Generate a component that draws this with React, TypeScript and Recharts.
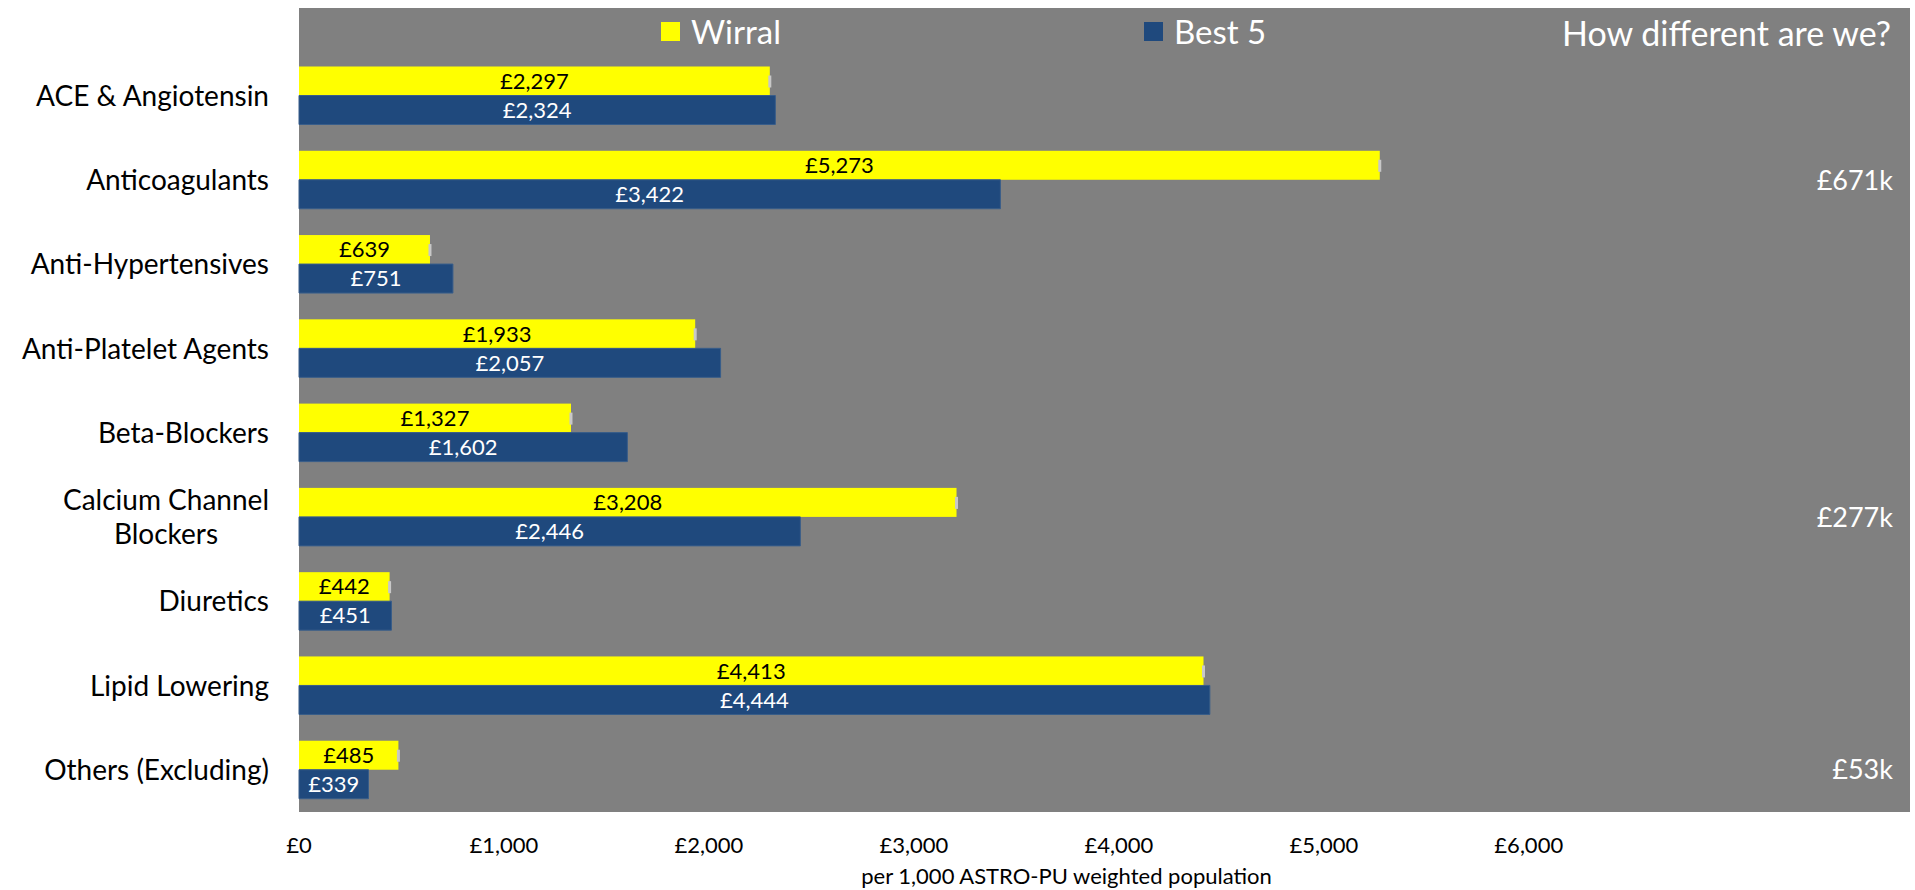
import React from 'react';
import { BarChart, Bar, XAxis, YAxis, CartesianGrid, Legend, LabelList } from 'recharts';

// ---------- data ----------
const categories = [
  'ACE & Angiotensin',
  'Anticoagulants',
  'Anti-Hypertensives',
  'Anti-Platelet Agents',
  'Beta-Blockers',
  'Calcium Channel Blockers',
  'Diuretics',
  'Lipid Lowering',
  'Others (Excluding)',
];
const wirral = [2297, 5273, 639, 1933, 1327, 3208, 442, 4413, 485];
const best5 = [2324, 3422, 751, 2057, 1602, 2446, 451, 4444, 339];
const difference = ['', '£671k', '', '', '', '£277k', '', '', '£53k'];
const xTicks = [0, 1000, 2000, 3000, 4000, 5000, 6000];
const xMax = 7860;
const seriesNames = ['Wirral', 'Best 5'];
const headerTitle = 'How different are we?';
const axisTitle = 'per 1,000 ASTRO-PU weighted population';

const data = categories.map((c, i) => ({
  category: c,
  wirral: wirral[i],
  best5: best5[i],
  diff: difference[i],
}));

// ---------- styles ----------
const FONT = 'Lato, "Open Sans", sans-serif';
const GRAY = '#808080';
const YELLOW = '#FFFF00';
const BLUE = '#1F497D';
const CAP = '#C8C8C8';
const seriesColors = [YELLOW, BLUE];

const money = (v: number) => `£${Number(v).toLocaleString('en-GB')}`;

let ctx: CanvasRenderingContext2D | null = null;
function measure(text: string, size: number): number {
  if (!ctx) ctx = document.createElement('canvas').getContext('2d');
  if (!ctx) return text.length * size * 0.5;
  ctx.font = `${size}px Lato`;
  return ctx.measureText(text).width;
}
function wrap(text: string, size: number, maxW: number): string[] {
  const words = text.split(' ');
  const lines: string[] = [];
  let cur = '';
  for (const w of words) {
    const test = cur ? cur + ' ' + w : w;
    if (cur && measure(test, size) > maxW) {
      lines.push(cur);
      cur = w;
    } else cur = test;
  }
  if (cur) lines.push(cur);
  return lines;
}

const CAT_SIZE = 28;
const CategoryTick = (props: any) => {
  const { x, y, payload } = props;
  const lines = wrap(String(payload.value), CAT_SIZE, 290);
  const common = { fontFamily: FONT, fontSize: CAT_SIZE, fill: '#000' };
  if (lines.length === 1) {
    return (
      <text x={x} y={y} dy="0.36em" textAnchor="end" {...common}>
        {lines[0]}
      </text>
    );
  }
  const blockW = Math.max(...lines.map((l) => measure(l, CAT_SIZE)));
  const lh = 34;
  const cx = x - blockW / 2;
  return (
    <text x={cx} y={y - ((lines.length - 1) * lh) / 2} textAnchor="middle" {...common}>
      {lines.map((l, i) => (
        <tspan key={i} x={cx} dy={i === 0 ? '0.36em' : lh}>
          {l}
        </tspan>
      ))}
    </text>
  );
};

// yellow bar with the small light-grey end marker seen in the original
const CappedBar = (props: any) => {
  const { x, y, width, height, fill } = props;
  if (width == null || height == null) return null;
  return (
    <g>
      <rect x={x} y={y} width={width} height={height} fill={fill} />
      <rect x={x + width - 1.5} y={y + height / 2 - 5.5} width={3} height={12} fill={CAP} />
    </g>
  );
};

const legendLefts = [661, 1144];
const renderLegend = () => {
  return (
    <div style={{ position: 'relative', height: 0, fontFamily: FONT, color: '#fff' }}>
      {seriesNames.map((name, i) => (
        <div
          key={name}
          style={{
            position: 'absolute',
            left: legendLefts[i],
            top: 12,
            display: 'flex',
            alignItems: 'center',
            whiteSpace: 'nowrap',
          }}
        >
          <span style={{ display: 'inline-block', width: 19, height: 19, background: seriesColors[i], marginRight: 11 }} />
          <span style={{ fontSize: 33, lineHeight: '38px' }}>{name}</span>
        </div>
      ))}
      <div
        style={{
          position: 'absolute',
          right: 24,
          top: 14,
          fontSize: 34,
          lineHeight: '38px',
          whiteSpace: 'nowrap',
        }}
      >
        {headerTitle}
      </div>
    </div>
  );
};

export default function App() {
  return (
    <div style={{ width: 1915, height: 890 }}>
      <style>{'body{margin:0;}'}</style>
      <BarChart
        width={1915}
        height={890}
        data={data}
        layout="vertical"
        margin={{ top: 8, right: 5, bottom: 0, left: 0 }}
        barGap={0}
        style={{ fontFamily: FONT }}
      >
        <CartesianGrid yAxisId="main" fill={GRAY} horizontal={false} vertical={false} stroke="none" />
        <XAxis
          type="number"
          domain={[0, xMax]}
          ticks={xTicks}
          interval={0}
          tickFormatter={money}
          axisLine={false}
          tickLine={false}
          tickSize={0}
          tickMargin={25}
          height={78}
          tick={{ fill: '#000', fontSize: 22, fontFamily: FONT }}
          label={{
            value: axisTitle,
            position: 'insideBottom',
            offset: 6,
            dx: -38,
            style: { fill: '#000', fontSize: 22, fontFamily: FONT },
          }}
        />
        <YAxis
          yAxisId="main"
          type="category"
          dataKey="category"
          width={299}
          interval={0}
          axisLine={false}
          tickLine={false}
          tickSize={0}
          tickMargin={30}
          padding={{ top: 45.5, bottom: 0 }}
          tick={<CategoryTick />}
        />
        <YAxis
          yAxisId="diff"
          type="category"
          dataKey="diff"
          orientation="right"
          mirror
          width={1}
          interval={0}
          axisLine={false}
          tickLine={false}
          tickSize={0}
          tickMargin={17}
          padding={{ top: 45.5, bottom: 0 }}
          tick={{ fill: '#fff', fontSize: 27, fontFamily: FONT }}
        />
        <Legend verticalAlign="top" content={renderLegend} wrapperStyle={{ left: 0, top: 0, width: 1915 }} />
        <Bar
          yAxisId="main"
          dataKey="wirral"
          name={seriesNames[0]}
          fill={YELLOW}
          barSize={29}
          shape={<CappedBar />}
          isAnimationActive={false}
        >
          <LabelList
            dataKey="wirral"
            position="center"
            formatter={money as any}
            style={{ fill: '#000', fontSize: 22, fontFamily: FONT }}
          />
        </Bar>
        <Bar
          yAxisId="main"
          dataKey="best5"
          name={seriesNames[1]}
          fill={BLUE}
          stroke="#385D8A"
          strokeWidth={1}
          barSize={29}
          isAnimationActive={false}
        >
          <LabelList
            dataKey="best5"
            position="center"
            formatter={money as any}
            style={{ fill: '#fff', fontSize: 22, fontFamily: FONT }}
          />
        </Bar>
      </BarChart>
    </div>
  );
}
